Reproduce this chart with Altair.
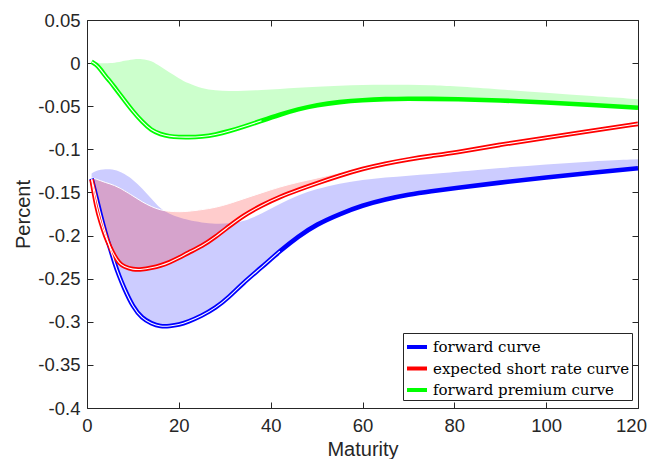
import altair as alt
import pandas as pd

# ---- data ----
maturity = [1, 2, 3, 4, 5, 6, 7, 8, 10, 12, 14, 16, 18, 20, 22, 25, 28, 31, 34,
            38, 42, 46, 50, 55, 60, 65, 70, 75, 80, 90, 100, 110, 120]

forward_curve = [-0.134, -0.155, -0.177, -0.197, -0.214, -0.232, -0.247, -0.260,
                 -0.283, -0.296, -0.302, -0.3055, -0.305, -0.3035, -0.300, -0.293,
                 -0.284, -0.271, -0.255, -0.237, -0.218, -0.201, -0.187, -0.175,
                 -0.165, -0.158, -0.1525, -0.1485, -0.145, -0.1385, -0.1325,
                 -0.127, -0.122]
forward_band = [-0.128, -0.125, -0.1235, -0.123, -0.123, -0.124, -0.1255, -0.128,
                -0.135, -0.145, -0.157, -0.169, -0.175, -0.179, -0.182, -0.185,
                -0.1865, -0.186, -0.184, -0.175, -0.163, -0.153, -0.146, -0.1395,
                -0.1355, -0.1325, -0.1305, -0.1285, -0.1265, -0.1215, -0.1175,
                -0.114, -0.1115]

expected_curve = [-0.135, -0.166, -0.185, -0.201, -0.213, -0.224, -0.232, -0.236,
                  -0.2395, -0.2395, -0.2375, -0.235, -0.231, -0.226, -0.220,
                  -0.2125, -0.2015, -0.189, -0.177, -0.165, -0.155, -0.147,
                  -0.1395, -0.1305, -0.1225, -0.1165, -0.1115, -0.1075, -0.104,
                  -0.0945, -0.0865, -0.0785, -0.0705]
expected_band = [-0.133, -0.1345, -0.1365, -0.1385, -0.140, -0.142, -0.1445,
                 -0.1475, -0.154, -0.161, -0.1665, -0.1705, -0.172, -0.1725,
                 -0.172, -0.170, -0.1675, -0.163, -0.1575, -0.1505, -0.1435,
                 -0.138, -0.1335, -0.127, -0.1215, -0.1163, -0.1113, -0.1073,
                 -0.1038, -0.0943, -0.0863, -0.0783, -0.0703]

premium_curve = [0.0015, -0.0015, -0.0075, -0.015, -0.021, -0.028, -0.035, -0.042,
                 -0.056, -0.068, -0.078, -0.0825, -0.085, -0.0858, -0.086, -0.0853,
                 -0.083, -0.079, -0.074, -0.0668, -0.0597, -0.0534, -0.0486,
                 -0.045, -0.0428, -0.0417, -0.0413, -0.0414, -0.0418, -0.0432,
                 -0.0455, -0.0485, -0.0518]
premium_band = [0.003, 0.0005, -0.0003, -0.0003, 0.0, 0.0005, 0.0012, 0.0025,
                0.0045, 0.005, 0.003, -0.004, -0.011, -0.0175, -0.0235, -0.0295,
                -0.0318, -0.0325, -0.0322, -0.0312, -0.030, -0.0287, -0.0275,
                -0.0262, -0.0253, -0.0249, -0.025, -0.0256, -0.0268, -0.0305,
                -0.0345, -0.0382, -0.0418]

series_names = ["forward curve", "expected short rate curve", "forward premium curve"]
series_colors = ["#0000ff", "#ff0000", "#00ff00"]
double_line_until = [45, 120, 38]   # where the two strands of each curve separate

x_ticks = [0, 20, 40, 60, 80, 100, 120]
y_ticks = [-0.4, -0.35, -0.3, -0.25, -0.2, -0.15, -0.1, -0.05, 0, 0.05]

rows = []
for name, lv, bv, gap in zip(series_names,
                             [forward_curve, expected_curve, premium_curve],
                             [forward_band, expected_band, premium_band],
                             double_line_until):
    for x, l, b in zip(maturity, lv, bv):
        rows.append({"series": name, "x": x, "line": l, "top": b, "gap": x <= gap})
df = pd.DataFrame(rows)

# ---- styling ----
INK = "#262626"
SANS = "Liberation Sans"
CURVE = "basis"
xs = alt.Scale(domain=[0, 120], nice=False, zero=False)
ys = alt.Scale(domain=[-0.4, 0.05], nice=False, zero=False)

legend = alt.Legend(title=None, orient="none", legendX=316, legendY=313,
                    symbolType="stroke", symbolSize=400, symbolStrokeWidth=4,
                    symbolOpacity=1, labelFont="DejaVu Serif", labelFontSize=15,
                    labelColor="black", labelOffset=4, labelLimit=0,
                    strokeColor=INK, fillColor="white", padding=2, rowPadding=1.5)
color_enc = alt.Color("series:N", sort=series_names,
                      scale=alt.Scale(domain=series_names, range=series_colors),
                      legend=legend)

# the last x label is nudged left so the page edge does not cut it
axis_bottom = alt.Axis(orient="bottom", offset=-6, tickSize=6, domain=False, grid=False,
                       values=x_ticks, labelFont=SANS, labelFontSize=18.5,
                       labelColor=INK, tickColor=INK, labelPadding=8, labelFlush=False,
                       labelOverlap=False,
                       labelOffset={"condition": {"test": "datum.value >= 120", "value": -7},
                                    "value": 0},
                       title="Maturity", titleFont=SANS,
                       titleFontSize=20, titleFontWeight="normal", titleColor=INK,
                       titlePadding=5)
axis_top = alt.Axis(orient="top", offset=-6, tickSize=6, domain=False, grid=False,
                    values=x_ticks, labels=False, tickColor=INK, title=None)
axis_left = alt.Axis(orient="left", offset=-6, tickSize=6, domain=False, grid=False,
                     values=y_ticks, labelExpr="'' + datum.value", labelFont=SANS,
                     labelFontSize=18.5, labelColor=INK, tickColor=INK, labelPadding=7,
                     labelFlush=False, labelOverlap=False, title="Percent",
                     titleFont=SANS, titleFontSize=20, titleFontWeight="normal",
                     titleColor=INK, titlePadding=4)
axis_right = alt.Axis(orient="right", offset=-6, tickSize=6, domain=False, grid=False,
                      values=y_ticks, labels=False, tickColor=INK, title=None)

base = alt.Chart(df)

areas = base.mark_area(fillOpacity=0.2, interpolate=CURVE).encode(
    x=alt.X("x:Q", scale=xs, axis=axis_bottom),
    y=alt.Y("top:Q", scale=ys, axis=axis_left, stack=None),
    y2="line:Q",
    color=color_enc,
)

red_edge = base.transform_filter(alt.datum.series == series_names[1]).mark_line(
    color="white", strokeWidth=1, interpolate=CURVE).encode(
    x=alt.X("x:Q", scale=xs, axis=None),
    y=alt.Y("top:Q", scale=ys, axis=None),
)

lines = base.mark_line(strokeWidth=4.6, interpolate=CURVE).encode(
    x=alt.X("x:Q", scale=xs, axis=axis_top),
    y=alt.Y("line:Q", scale=ys, axis=axis_right),
    color=color_enc,
)

centers = base.transform_filter("datum.gap").mark_line(
    color="white", strokeWidth=1.1, interpolate=CURVE).encode(
    x=alt.X("x:Q", scale=xs, axis=None),
    y=alt.Y("line:Q", scale=ys, axis=None),
    detail="series:N",
)

chart = alt.layer(areas, red_edge, lines, centers).resolve_axis(
    x="independent", y="independent"
).properties(
    width=551, height=388,
    autosize=alt.AutoSizeParams(type="none"),
    padding={"left": 79, "top": 12, "right": 10, "bottom": 51},
).configure_view(stroke=INK, strokeWidth=1)

chart.save("out.html", embed_options={"renderer": "svg", "actions": False})
